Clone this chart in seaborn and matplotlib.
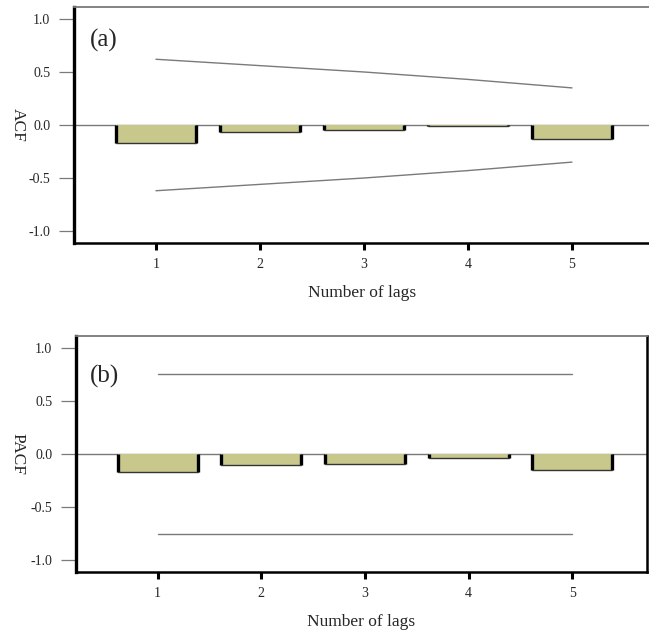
import numpy as np
import pandas as pd
import matplotlib
matplotlib.use("Agg")
import matplotlib.pyplot as plt
import seaborn as sns

# Lags and correlation estimates
lags = [1, 2, 3, 4, 5]
acf_values = [-0.17, -0.07, -0.05, -0.005, -0.13]
acf_upper = [0.62, 0.56, 0.50, 0.43, 0.35]
acf_lower = [-0.62, -0.56, -0.50, -0.43, -0.35]
pacf_values = [-0.17, -0.10, -0.09, -0.035, -0.15]
pacf_upper = [0.755, 0.755, 0.755, 0.755, 0.755]
pacf_lower = [-0.755, -0.755, -0.755, -0.755, -0.755]
y_ticks = [-1.0, -0.5, 0.0, 0.5, 1.0]

sns.set_theme(style="white")
plt.rcParams["font.family"] = ["Liberation Serif", "DejaVu Serif"]

BAR_COLOR = "#c8c88c"
LINE_GRAY = "#7a7a7a"

fig = plt.figure(figsize=(6.49, 6.31), dpi=100)
ax_a = fig.add_axes([74 / 649, 1 - 243 / 631, (651 - 74) / 649, (243 - 7) / 631])
ax_b = fig.add_axes([76 / 649, 1 - 572 / 631, (647 - 76) / 649, (572 - 336) / 631])


def draw_panel(ax, values, upper, lower, ylabel, tag, tag_pos, xmax, label_x):
    df = pd.DataFrame({"lag": lags, "value": values})
    sns.barplot(data=df, x="lag", y="value", native_scale=True, width=0.77,
                color=BAR_COLOR, saturation=1, edgecolor="none", linewidth=0,
                ax=ax, zorder=2)
    # bar outlines: heavy sides, thin bottom
    for p in ax.patches:
        x0, w, h = p.get_x(), p.get_width(), p.get_height()
        ax.plot([x0, x0], [0, h], color="black", lw=2.4, zorder=3,
                solid_capstyle="butt")
        ax.plot([x0 + w, x0 + w], [0, h], color="black", lw=2.4, zorder=3,
                solid_capstyle="butt")
        ax.plot([x0, x0 + w], [h, h], color="#333333", lw=1.0, zorder=3)
    ax.axhline(0, color=LINE_GRAY, lw=1.0, zorder=1)
    band = pd.DataFrame({"lag": lags, "upper": upper, "lower": lower})
    sns.lineplot(data=band, x="lag", y="upper", color=LINE_GRAY, lw=1.0, ax=ax)
    sns.lineplot(data=band, x="lag", y="lower", color=LINE_GRAY, lw=1.0, ax=ax)

    ax.set_xlim(0.212, xmax)
    ax.set_ylim(-1.113, 1.113)
    ax.set_yticks(y_ticks)
    ax.set_yticklabels([f"{t:.1f}" for t in y_ticks], fontsize=10)
    ax.set_xticks(lags)
    ax.set_xticklabels([str(l) for l in lags], fontsize=10)
    ax.tick_params(axis="y", direction="out", length=11, width=0.9,
                   color=LINE_GRAY, pad=6, left=True)
    ax.tick_params(axis="x", direction="out", length=5, width=2.2,
                   color="black", pad=6, bottom=True)
    ax.set_xlabel("Number of lags", fontsize=12.5, labelpad=10)
    ax.set_ylabel(ylabel, fontsize=12.5, rotation=-90)
    ax.yaxis.set_label_coords(label_x, 0.5)

    ax.spines["left"].set_color("black")
    ax.spines["left"].set_linewidth(2.4)
    ax.spines["bottom"].set_color("black")
    ax.spines["bottom"].set_linewidth(1.8)
    ax.spines["top"].set_color(LINE_GRAY)
    ax.spines["top"].set_linewidth(1.3)
    ax.spines["right"].set_color("black")
    ax.spines["right"].set_linewidth(1.8)
    for s in ax.spines.values():
        s.set_visible(True)

    ax.text(tag_pos[0], tag_pos[1], tag, transform=ax.transAxes, fontsize=18,
            ha="left", va="center")


draw_panel(ax_a, acf_values, acf_upper, acf_lower, "ACF", "(a)",
           (0.027, 0.86), 5.76, -0.111)
draw_panel(ax_b, pacf_values, pacf_upper, pacf_lower, "PACF", "(b)",
           (0.024, 0.83), 5.72, -0.116)

fig.savefig("out.png", dpi=100, facecolor="white")
